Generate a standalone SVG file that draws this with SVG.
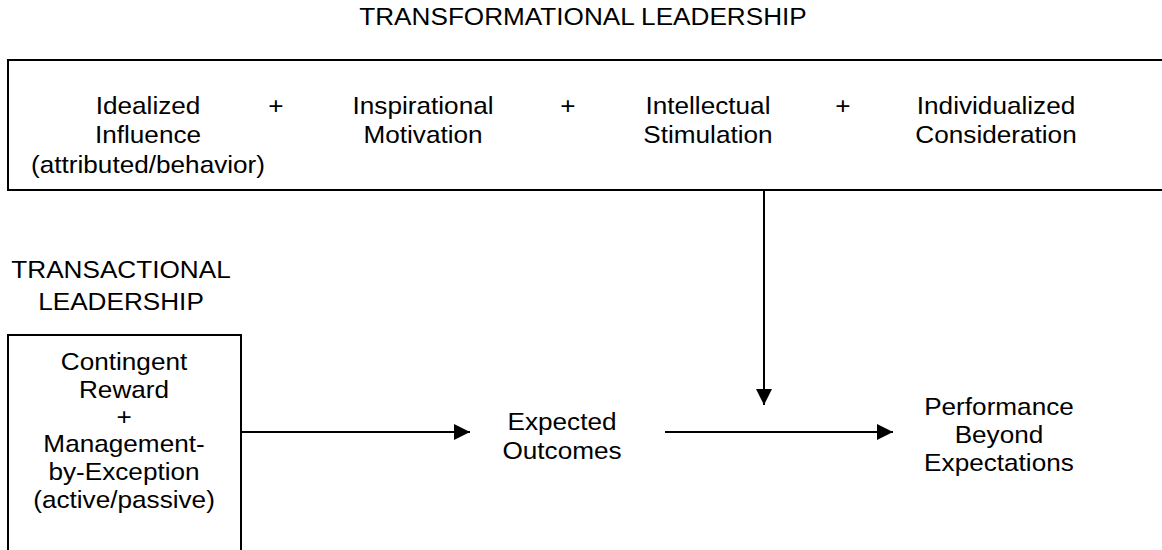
<svg xmlns="http://www.w3.org/2000/svg" width="1162" height="550" viewBox="0 0 1162 550">
  <style>
    .box { fill: #ffffff; stroke: #000000; stroke-width: 2; }
    .lbl { font-family: "Liberation Sans", Arial, sans-serif; font-size: 24px; fill: #000000; text-anchor: middle; }
    .wire { stroke: #000000; stroke-width: 2; fill: none; }
  </style>
  <defs>
    <marker id="arrow" viewBox="0 0 16 16" refX="16" refY="8" markerWidth="16" markerHeight="16" markerUnits="userSpaceOnUse" orient="auto">
      <path d="M0,0 L16,8 L0,16 Z" fill="#000000"/>
    </marker>
  </defs>
  <rect width="1162" height="550" fill="#ffffff"/>

  <!-- heading over the transformational box -->
  <g id="transformational-title">
    <text class="lbl" transform="scale(1.09 1)" x="534.9" y="25">TRANSFORMATIONAL LEADERSHIP</text>
  </g>

  <!-- transformational box with its four factors -->
  <g id="transformational">
    <rect class="box" x="8" y="60" width="1170" height="130"/>
    <g transform="scale(1.09 1)">
      <text class="lbl" x="135.8" y="114">Idealized</text>
      <text class="lbl" x="135.8" y="143.5">Influence</text>
      <text class="lbl" x="135.8" y="173">(attributed/behavior)</text>
      <text class="lbl" x="253.2" y="114">+</text>
      <text class="lbl" x="388.1" y="114">Inspirational</text>
      <text class="lbl" x="388.1" y="143.5">Motivation</text>
      <text class="lbl" x="521.1" y="114">+</text>
      <text class="lbl" x="649.5" y="114">Intellectual</text>
      <text class="lbl" x="649.5" y="143.5">Stimulation</text>
      <text class="lbl" x="773.4" y="114">+</text>
      <text class="lbl" x="913.8" y="114">Individualized</text>
      <text class="lbl" x="913.8" y="143.5">Consideration</text>
    </g>
  </g>

  <!-- heading over the transactional box -->
  <g id="transactional-title">
    <g transform="scale(1.09 1)">
      <text class="lbl" x="111" y="278">TRANSACTIONAL</text>
      <text class="lbl" x="111" y="310">LEADERSHIP</text>
    </g>
  </g>

  <!-- transactional box -->
  <g id="transactional">
    <rect class="box" x="8" y="335" width="233" height="240"/>
    <g transform="scale(1.09 1)">
      <text class="lbl" x="113.8" y="370">Contingent</text>
      <text class="lbl" x="113.8" y="398">Reward</text>
      <text class="lbl" x="113.8" y="425">+</text>
      <text class="lbl" x="113.8" y="452">Management-</text>
      <text class="lbl" x="113.8" y="480">by-Exception</text>
      <text class="lbl" x="113.8" y="508">(active/passive)</text>
    </g>
  </g>

  <g id="expected-outcomes">
    <g transform="scale(1.09 1)">
      <text class="lbl" x="515.6" y="430">Expected</text>
      <text class="lbl" x="515.6" y="459">Outcomes</text>
    </g>
  </g>

  <g id="performance">
    <g transform="scale(1.09 1)">
      <text class="lbl" x="916.5" y="415">Performance</text>
      <text class="lbl" x="916.5" y="443">Beyond</text>
      <text class="lbl" x="916.5" y="471">Expectations</text>
    </g>
  </g>

  <!-- connectors -->
  <g id="connectors">
    <line class="wire" x1="241" y1="432" x2="470" y2="432" marker-end="url(#arrow)"/>
    <line class="wire" x1="665" y1="432" x2="893" y2="432" marker-end="url(#arrow)"/>
    <line class="wire" x1="764" y1="190" x2="764" y2="405" marker-end="url(#arrow)"/>
  </g>
</svg>
